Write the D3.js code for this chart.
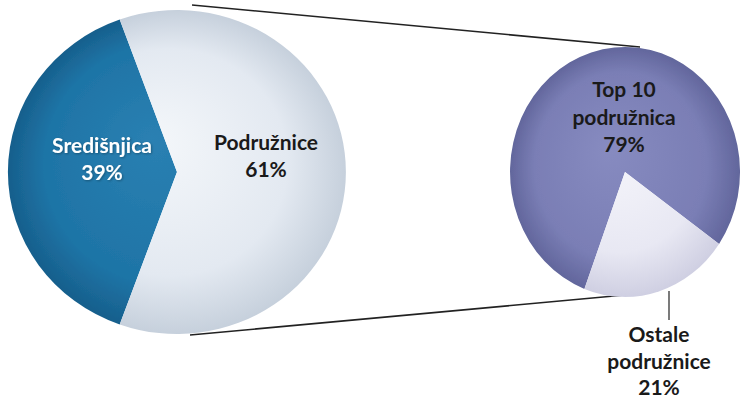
<!DOCTYPE html>
<html>
<head>
<meta charset="utf-8">
<script src="https://cdn.jsdelivr.net/npm/d3@7/dist/d3.min.js"></script>
<style>
  html, body { margin: 0; padding: 0; background: #ffffff; }
  svg { display: block; }
  text { font-family: Lato, "Open Sans", sans-serif; font-weight: 700; }
</style>
</head>
<body>
<svg id="chart" width="749" height="403"></svg>
<script>
// ---- data ----
const mainCategories = ["Središnjica", "Podružnice"];
const mainValues = [39, 61];
const subCategories = ["Top 10 podružnica", "Ostale podružnice"];
const subValues = [79, 21];
const mainLabelLines = [["Središnjica", "39%"], ["Podružnice", "61%"]];
const subLabelLines = [["Top 10", "podružnica", "79%"], ["Ostale", "podružnice", "21%"]];

const svg = d3.select("#chart");
const defs = svg.append("defs");

// shadow filter
const f = defs.append("filter").attr("id", "shadow")
  .attr("x", "-10%").attr("y", "-10%").attr("width", "125%").attr("height", "125%");
f.append("feGaussianBlur").attr("in", "SourceAlpha").attr("stdDeviation", 3).attr("result", "b");
f.append("feOffset").attr("in", "b").attr("dx", 2).attr("dy", 3).attr("result", "o");
f.append("feComponentTransfer").attr("in", "o").attr("result", "o2")
  .append("feFuncA").attr("type", "linear").attr("slope", 0.45);
const fm = f.append("feMerge");
fm.append("feMergeNode").attr("in", "o2");
fm.append("feMergeNode").attr("in", "SourceGraphic");

const tf = defs.append("filter").attr("id", "tshadow")
  .attr("x", "-10%").attr("y", "-20%").attr("width", "120%").attr("height", "150%");
tf.append("feDropShadow").attr("dx", 1).attr("dy", 1).attr("stdDeviation", 0.8)
  .attr("flood-color", "#000").attr("flood-opacity", 0.3);

function radial(id, stops) {
  const g = defs.append("radialGradient").attr("id", id)
    .attr("gradientUnits", "userSpaceOnUse").attr("cx", 0).attr("cy", 0).attr("r", 1)
    .attr("fx", -0.15).attr("fy", -0.2);
  stops.forEach(([o, c]) => g.append("stop").attr("offset", o).attr("stop-color", c));
}
radial("gBlue", [[0, "#2a80b2"], [0.75, "#1e74a6"], [1, "#175f8c"]]);
radial("gLight", [[0, "#f4f7fa"], [0.7, "#e3e9f1"], [1, "#c6d0dc"]]);
radial("gPurple", [[0, "#878bc0"], [0.75, "#7a7eb5"], [1, "#62669c"]]);
radial("gWhite", [[0, "#f6f6fb"], [0.7, "#e8e8f3"], [1, "#cfcfe2"]]);

// ---- connector lines ----
const lineColor = "#222";
svg.append("line").attr("x1", 192).attr("y1", 5).attr("x2", 640).attr("y2", 47)
  .attr("stroke", lineColor).attr("stroke-width", 1.6);
svg.append("line").attr("x1", 190).attr("y1", 335).attr("x2", 625).attr("y2", 295)
  .attr("stroke", lineColor).attr("stroke-width", 1.6);

// ---- main pie ----
const mainTotal = d3.sum(mainValues);
const mainStart = -Math.PI / 2 - (mainValues[0] / mainTotal) * Math.PI;
const mainPie = d3.pie().sort(null).value(d => d)
  .startAngle(mainStart).endAngle(mainStart + 2 * Math.PI);
const arcUnit = d3.arc().innerRadius(0).outerRadius(1);

const mainG = svg.append("g").attr("transform", "translate(177,172) scale(169,162)")
  .attr("filter", "url(#shadow)");
mainG.selectAll("path").data(mainPie(mainValues)).join("path")
  .attr("d", arcUnit)
  .attr("fill", (d, i) => i === 0 ? "url(#gBlue)" : "url(#gLight)");

// ---- sub pie ----
const subStart = (200.7 / 180) * Math.PI;
const subPie = d3.pie().sort(null).value(d => d)
  .startAngle(subStart).endAngle(subStart + 2 * Math.PI);
const subG = svg.append("g").attr("transform", "translate(625,172) scale(115,125)")
  .attr("filter", "url(#shadow)");
subG.selectAll("path").data(subPie(subValues)).join("path")
  .attr("d", arcUnit)
  .attr("fill", (d, i) => i === 0 ? "url(#gPurple)" : "url(#gWhite)");

// leader line for Ostale
svg.append("line").attr("x1", 669).attr("y1", 291).attr("x2", 669).attr("y2", 320)
  .attr("stroke", "#333").attr("stroke-width", 1.3);

// ---- labels ----
function label(lines, x, y0, dy, color, size, shadow) {
  const t = svg.append("text").attr("text-anchor", "middle")
    .attr("fill", color).style("font-size", size + "px");
  if (shadow) t.attr("filter", "url(#tshadow)");
  lines.forEach((s, i) => t.append("tspan").attr("x", x).attr("y", y0 + i * dy).text(s));
}
label(mainLabelLines[0], 102, 153, 27, "#ffffff", 21, true);
label(mainLabelLines[1], 266, 150, 27, "#1a1a1a", 21, false);
label(subLabelLines[0], 624, 97, 27.5, "#1a1a1a", 21, false);
label(subLabelLines[1], 659, 342, 26.5, "#1a1a1a", 21, false);
</script>
</body>
</html>
